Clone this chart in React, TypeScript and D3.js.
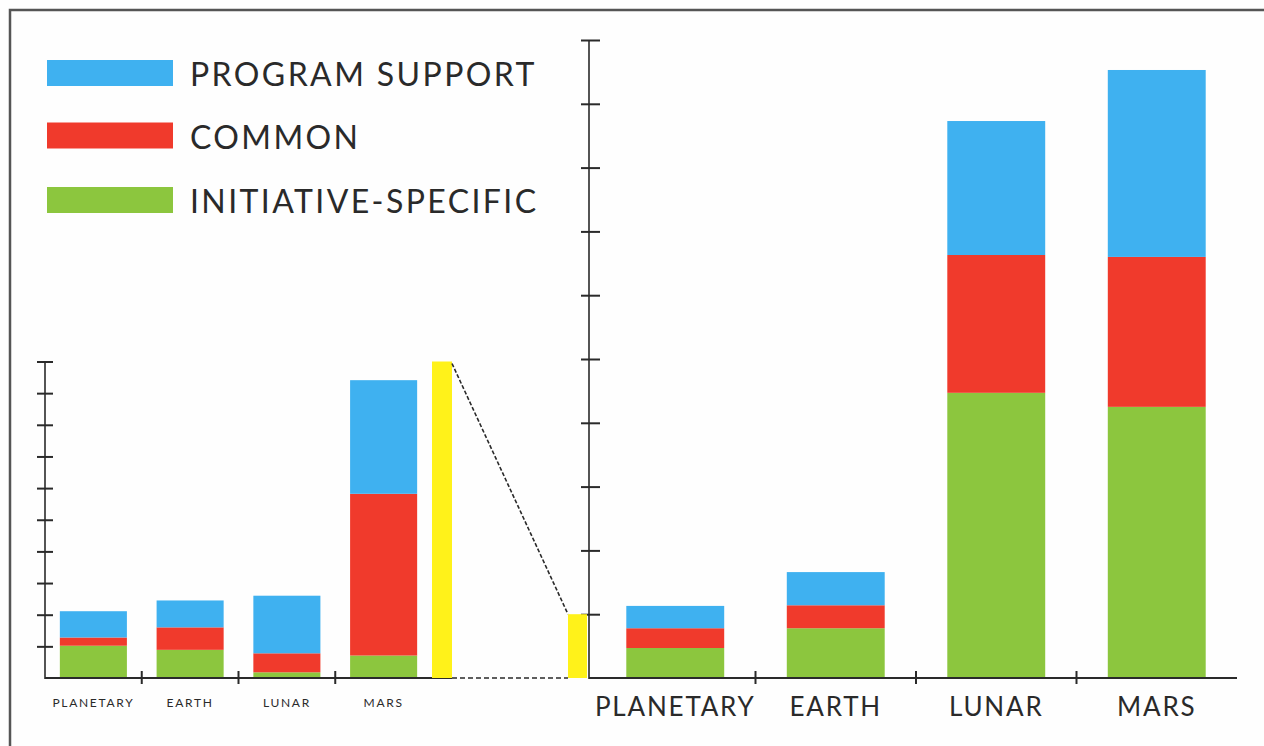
import React, { useRef, useEffect } from "react";
import * as d3 from "d3";

const categories = ["PLANETARY", "EARTH", "LUNAR", "MARS"];
const seriesKeys = ["initiative", "common", "program"];
const legendLabels = ["PROGRAM SUPPORT", "COMMON", "INITIATIVE-SPECIFIC"];
const legendKeys = ["program", "common", "initiative"];

// small (zoomed) chart on the left
const leftInitiative = [1.02, 0.89, 0.18, 0.71];
const leftCommon = [0.26, 0.71, 0.6, 5.11];
const leftProgram = [0.83, 0.85, 1.82, 3.59];

// main chart on the right
const rightInitiative = [0.47, 0.78, 4.47, 4.25];
const rightCommon = [0.31, 0.36, 2.16, 2.35];
const rightProgram = [0.35, 0.52, 2.1, 2.93];

const axisMax = 10;
const yellowLeftValue = 10; // full left scale
const yellowRightValue = 1; // = one unit on the right scale

const colors: Record<string, string> = {
  program: "#3fb1f0",
  common: "#f03a2c",
  initiative: "#8cc63e",
};
const yellow = "#fff21a";
const ink = "#2a2a2a";
const font = "Lato, 'Open Sans', sans-serif";

const W = 1264;
const H = 746;
const baseY = 678;

type Row = { cat: string; initiative: number; common: number; program: number };

const makeRows = (a: number[], b: number[], c: number[]): Row[] =>
  categories.map((cat, i) => ({ cat, initiative: a[i], common: b[i], program: c[i] }));

const App: React.FC = () => {
  const svgRef = useRef<SVGSVGElement | null>(null);

  useEffect(() => {
    if (!svgRef.current) return;
    const svg = d3.select(svgRef.current);
    svg.selectAll("*").remove();

    svg.append("rect").attr("width", W).attr("height", H).attr("fill", "#fefefe");

    // frame (top + left edges visible)
    svg
      .append("path")
      .attr("d", `M10,${H} V10 H${W}`)
      .attr("fill", "none")
      .attr("stroke", "#555")
      .attr("stroke-width", 2.5);

    const stack = d3.stack<Row>().keys(seriesKeys);

    const drawChart = (
      rows: Row[],
      x: d3.ScaleBand<string>,
      y: d3.ScaleLinear<number, number>,
      axisX: number,
      endX: number,
      tickIn: number,
      tickOut: number,
      labelSize: number,
      labelY: number,
      labelSpacing: number
    ) => {
      const g = svg.append("g");

      const layers = stack(rows);
      g.selectAll("g.layer")
        .data(layers)
        .enter()
        .append("g")
        .attr("fill", (d) => colors[d.key])
        .selectAll("rect")
        .data((d) => d)
        .enter()
        .append("rect")
        .attr("x", (d) => x(d.data.cat) as number)
        .attr("width", x.bandwidth())
        .attr("y", (d) => y(d[1]))
        .attr("height", (d) => y(d[0]) - y(d[1]));

      // y axis with crossing ticks
      const yAxis = g
        .append("g")
        .attr("transform", `translate(${axisX},0)`)
        .call(d3.axisLeft(y).ticks(axisMax).tickSizeOuter(0).tickFormat(() => ""));
      yAxis.select(".domain").remove();
      yAxis
        .selectAll(".tick line")
        .attr("x1", tickIn)
        .attr("x2", -tickOut)
        .attr("stroke", ink)
        .attr("stroke-width", 2);
      yAxis
        .selectAll(".tick")
        .filter((d) => d === 0)
        .remove();
      g.append("line")
        .attr("x1", axisX)
        .attr("x2", axisX)
        .attr("y1", y(axisMax))
        .attr("y2", baseY + 1)
        .attr("stroke", ink)
        .attr("stroke-width", 1.6);

      // baseline + category separators
      g.append("line")
        .attr("x1", axisX)
        .attr("x2", endX)
        .attr("y1", baseY)
        .attr("y2", baseY)
        .attr("stroke", ink)
        .attr("stroke-width", 1.8);

      const step = x.step();
      const half = (step * x.paddingInner()) / 2;
      g.selectAll("line.sep")
        .data(categories.slice(1))
        .enter()
        .append("line")
        .attr("x1", (d) => (x(d) as number) - half)
        .attr("x2", (d) => (x(d) as number) - half)
        .attr("y1", baseY - 7)
        .attr("y2", baseY + 6)
        .attr("stroke", ink)
        .attr("stroke-width", 2);

      g.selectAll("text.cat")
        .data(categories)
        .enter()
        .append("text")
        .attr("x", (d) => (x(d) as number) + x.bandwidth() / 2)
        .attr("y", labelY)
        .attr("text-anchor", "middle")
        .attr("font-family", font)
        .attr("font-size", labelSize)
        .attr("letter-spacing", labelSpacing)
        .attr("fill", ink)
        .text((d) => d);
    };

    // left (zoomed) chart
    const xL = d3.scaleBand<string>().domain(categories).range([45, 432]).paddingInner(0.307).paddingOuter(0.1535);
    const yL = d3.scaleLinear().domain([0, axisMax]).range([baseY, 361.5]);
    drawChart(makeRows(leftInitiative, leftCommon, leftProgram), xL, yL, 45, 452, 8, 8, 12, 707, 1.7);

    // right chart
    const xR = d3.scaleBand<string>().domain(categories).range([595, 1237]).paddingInner(0.39).paddingOuter(0.195);
    const yR = d3.scaleLinear().domain([0, axisMax]).range([baseY, 40]);
    drawChart(makeRows(rightInitiative, rightCommon, rightProgram), xR, yR, 589, 1237, 11, 8, 26, 716, 1.8);

    // yellow connector bars
    const yl0 = 432;
    const yl1 = 452;
    svg
      .append("rect")
      .attr("x", yl0)
      .attr("width", yl1 - yl0)
      .attr("y", yL(yellowLeftValue))
      .attr("height", baseY - yL(yellowLeftValue))
      .attr("fill", yellow);

    const yr0 = 568;
    const yr1 = 587;
    svg
      .append("rect")
      .attr("x", yr0)
      .attr("width", yr1 - yr0)
      .attr("y", yR(yellowRightValue))
      .attr("height", baseY - yR(yellowRightValue))
      .attr("fill", yellow);

    svg
      .append("line")
      .attr("x1", yl1)
      .attr("y1", yL(yellowLeftValue) + 2)
      .attr("x2", yr0)
      .attr("y2", yR(yellowRightValue))
      .attr("stroke", ink)
      .attr("stroke-width", 1.6)
      .attr("stroke-dasharray", "4 2");

    svg
      .append("line")
      .attr("x1", yl1)
      .attr("y1", baseY)
      .attr("x2", yr0)
      .attr("y2", baseY)
      .attr("stroke", ink)
      .attr("stroke-width", 1.6)
      .attr("stroke-dasharray", "5 3");

    // legend
    const legend = svg.append("g");
    const legendY = [60, 122.5, 187];
    legendKeys.forEach((k, i) => {
      legend
        .append("rect")
        .attr("x", 47)
        .attr("y", legendY[i])
        .attr("width", 126)
        .attr("height", 26)
        .attr("fill", colors[k]);
      legend
        .append("text")
        .attr("x", 190)
        .attr("y", legendY[i] + 26)
        .attr("font-family", font)
        .attr("font-size", 32)
        .attr("letter-spacing", 2.4)
        .attr("fill", ink)
        .text(legendLabels[i]);
    });
  }, []);

  return (
    <svg
      ref={svgRef}
      width={W}
      height={H}
      style={{ position: "absolute", left: 0, top: 0, display: "block" }}
    />
  );
};

export default App;
